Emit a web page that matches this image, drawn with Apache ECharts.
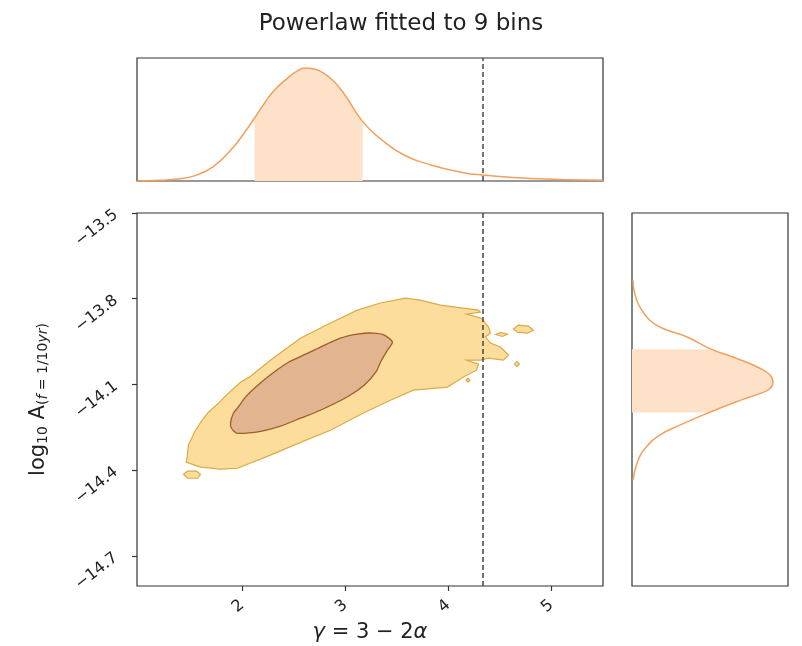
<!DOCTYPE html>
<html>
<head>
<meta charset="utf-8">
<script src="https://cdn.jsdelivr.net/npm/echarts@6/dist/echarts.min.js"></script>
<style>
  html, body { margin: 0; padding: 0; background: #fff; }
  #chart { width: 802px; height: 646px; }
</style>
</head>
<body>
<div id="chart"></div>
<script>
// ---- data -------------------------------------------------------------
const title = 'Powerlaw fitted to 9 bins';
const gammaTicks = [2, 3, 4, 5];
const ampTicks = [-13.5, -13.8, -14.1, -14.4, -14.7];
const gammaRange = [0.98, 5.5];
const ampRange = [-14.805, -13.5];
const gammaTrue = 13 / 3;

// marginal posterior of gamma (peak normalised to 1)
const gammaGrid = [0.98, 1.2, 1.4, 1.55, 1.72, 1.89, 2.02, 2.12, 2.21, 2.31, 2.44, 2.52, 2.61, 2.70, 2.79, 2.89, 2.99, 3.17, 3.34, 3.57, 3.83, 4.15, 4.33, 4.8, 5.5];
const gammaPdf  = [0.0, 0.006, 0.02, 0.05, 0.127, 0.274, 0.425, 0.557, 0.68, 0.80, 0.91, 0.965, 1.0, 0.99, 0.955, 0.88, 0.77, 0.525, 0.375, 0.23, 0.142, 0.073, 0.053, 0.022, 0.006];
const gammaBand = [2.12, 3.17];

// marginal posterior of log10 A (peak normalised to 1)
const ampGrid = [-13.735, -13.781, -13.828, -13.875, -13.904, -13.933, -13.977, -14.009, -14.044, -14.067, -14.09, -14.114, -14.131, -14.16, -14.198, -14.242, -14.277, -14.318, -14.365, -14.435];
const ampPdf  = [0.007, 0.019, 0.055, 0.126, 0.221, 0.387, 0.565, 0.744, 0.91, 0.98, 1.0, 0.98, 0.91, 0.744, 0.548, 0.34, 0.197, 0.103, 0.043, 0.007];
const ampBand = [-14.198, -13.977];

// joint posterior credible regions, [gamma, log10 A] vertices
const contourOuter = [
  [1.460, -14.372], [1.479, -14.312], [1.537, -14.267], [1.605, -14.228], [1.673, -14.197],
  [1.770, -14.165], [1.867, -14.130], [1.984, -14.092], [2.081, -14.071], [2.274, -14.015],
  [2.565, -13.938], [2.856, -13.885], [3.118, -13.840], [3.341, -13.815], [3.584, -13.798],
  [3.729, -13.805], [3.923, -13.822], [4.146, -13.833], [4.292, -13.840], [4.311, -13.847],
  [4.176, -13.854], [4.321, -13.868], [4.389, -13.899], [4.408, -13.920], [4.360, -13.934],
  [4.408, -13.955], [4.505, -13.969], [4.583, -13.997], [4.534, -14.015], [4.389, -14.008],
  [4.311, -14.015], [4.176, -14.015], [4.292, -14.029], [4.273, -14.050], [4.146, -14.074],
  [3.991, -14.109], [3.661, -14.120], [3.438, -14.155], [3.176, -14.200], [2.856, -14.260],
  [2.595, -14.298], [2.274, -14.347], [1.954, -14.393], [1.790, -14.396], [1.596, -14.389]
];
const outerIslands = [
  [[1.431, -14.414], [1.470, -14.403], [1.557, -14.403], [1.596, -14.414], [1.567, -14.428], [1.470, -14.428]],
  [[4.631, -13.906], [4.680, -13.892], [4.777, -13.896], [4.825, -13.910], [4.767, -13.920], [4.670, -13.917]],
  [[4.457, -13.925], [4.505, -13.918], [4.573, -13.924], [4.525, -13.932]],
  [[4.641, -14.029], [4.665, -14.020], [4.690, -14.029], [4.665, -14.037]],
  [[4.171, -14.085], [4.190, -14.078], [4.210, -14.085], [4.190, -14.092]]
];
const contourInner = [
  [1.887, -14.235], [1.916, -14.200], [1.954, -14.183], [2.032, -14.144], [2.177, -14.095],
  [2.323, -14.053], [2.449, -14.022], [2.614, -13.994], [2.759, -13.969], [2.953, -13.938],
  [3.118, -13.924], [3.264, -13.920], [3.380, -13.927], [3.458, -13.952], [3.409, -13.980],
  [3.351, -14.015], [3.303, -14.053], [3.186, -14.102], [3.031, -14.141], [2.759, -14.190],
  [2.565, -14.218], [2.371, -14.246], [2.139, -14.267], [1.945, -14.270], [1.896, -14.253]
];

// ---- styling ----------------------------------------------------------
const FONT = 'DejaVu Sans';
const TEXT = '#222';
const FRAME = '#333';
const LINE = '#f2a05c';
const BAND = '#fde2c9';
const OUTER_FILL = '#fddd9b', OUTER_EDGE = '#dcaa45';
const INNER_FILL = '#e2b48f', INNER_EDGE = '#9e5e2a';

const chart = echarts.init(document.getElementById('chart'), null, { renderer: 'canvas' });

function regionSeries(rings, fill, stroke, width, smooth, extra) {
  return Object.assign({
    type: 'custom',
    xAxisIndex: 1, yAxisIndex: 1,
    silent: true, animation: false,
    data: rings.map((r, i) => [r[0][0], r[0][1], i]),
    encode: { x: 0, y: 1 },
    renderItem: (params, api) => {
      const ring = rings[api.value(2)];
      return {
        type: 'polygon',
        shape: { points: ring.map(p => api.coord(p)), smooth: smooth },
        style: { fill: fill, stroke: stroke, lineWidth: width }
      };
    }
  }, extra || {});
}

const truthLine = {
  silent: true, symbol: 'none', animation: false,
  label: { show: false },
  lineStyle: { color: '#444', type: [5, 3], width: 1.5 },
  data: [{ xAxis: gammaTrue }]
};

const hidden = {
  axisLine: { show: false }, axisTick: { show: false },
  axisLabel: { show: false }, splitLine: { show: false }
};

const gridBase = { show: true, borderColor: FRAME, borderWidth: 1.2, containLabel: false, outerBoundsMode: 'none' };

const option = {
  backgroundColor: '#fff',
  animation: false,
  title: {
    text: title, left: 'center', top: 8,
    textStyle: { fontFamily: FONT, fontSize: 23, fontWeight: 'normal', color: TEXT }
  },
  grid: [
    Object.assign({ left: 137, top: 58, width: 466, height: 123 }, gridBase),
    Object.assign({ left: 137, top: 213, width: 466, height: 373 }, gridBase),
    Object.assign({ left: 632, top: 213, width: 156, height: 373 }, gridBase)
  ],
  xAxis: [
    Object.assign({ gridIndex: 0, type: 'value', min: gammaRange[0], max: gammaRange[1] }, hidden),
    {
      gridIndex: 1, type: 'value', min: gammaRange[0], max: gammaRange[1],
      axisLine: { show: false },
      axisTick: { show: true, length: 5, customValues: gammaTicks, lineStyle: { color: FRAME, width: 1.2 } },
      axisLabel: { show: true, rotate: 40, margin: 17, customValues: gammaTicks, fontFamily: FONT, fontSize: 16, color: TEXT },
      splitLine: { show: false },
      name: '{i|γ} = 3 − 2{i|α}',
      nameLocation: 'middle', nameGap: 36, nameMoveOverlap: false,
      nameTextStyle: {
        fontFamily: FONT, fontSize: 21, color: TEXT,
        rich: { i: { fontFamily: FONT, fontSize: 21, fontStyle: 'italic', color: TEXT } }
      }
    },
    Object.assign({ gridIndex: 2, type: 'value', min: 0, max: 1.107 }, hidden)
  ],
  yAxis: [
    Object.assign({ gridIndex: 0, type: 'value', min: 0, max: 1.088 }, hidden),
    {
      gridIndex: 1, type: 'value', min: ampRange[0], max: ampRange[1],
      axisLine: { show: false },
      axisTick: { show: true, length: 5, customValues: ampTicks, lineStyle: { color: FRAME, width: 1.2 } },
      axisLabel: { show: true, rotate: 38, margin: 21, customValues: ampTicks,
        formatter: v => (v < 0 ? '−' : '') + Math.abs(v).toFixed(1),
        fontFamily: FONT, fontSize: 16, color: TEXT },
      splitLine: { show: false },
      name: 'log{s|10} A{s|(}{si|f}{s| = 1/10}{si|yr}{s|)}',
      nameLocation: 'middle', nameRotate: 90, nameGap: 87, nameMoveOverlap: false,
      nameTextStyle: {
        fontFamily: FONT, fontSize: 21, color: TEXT,
        rich: {
          s: { fontFamily: FONT, fontSize: 14, color: TEXT, padding: [9, 0, 0, 0] },
          si: { fontFamily: FONT, fontSize: 14, fontStyle: 'italic', color: TEXT, padding: [9, 0, 0, 0] }
        }
      }
    },
    Object.assign({ gridIndex: 2, type: 'value', min: ampRange[0], max: ampRange[1] }, hidden)
  ],
  series: [
    // top marginal: credible band, then curve
    {
      type: 'line', xAxisIndex: 0, yAxisIndex: 0, smooth: 0.5, symbol: 'none', silent: true,
      lineStyle: { width: 0 }, areaStyle: { color: BAND, opacity: 1 },
      data: gammaGrid.map((g, i) => [g, gammaPdf[i]]).filter(p => p[0] >= gammaBand[0] && p[0] <= gammaBand[1])
    },
    {
      type: 'line', xAxisIndex: 0, yAxisIndex: 0, smooth: 0.5, symbol: 'none', silent: true,
      lineStyle: { color: LINE, width: 1.5 },
      data: gammaGrid.map((g, i) => [g, gammaPdf[i]]),
      markLine: truthLine
    },
    // main panel: joint credible regions
    regionSeries([contourOuter].concat(outerIslands), OUTER_FILL, OUTER_EDGE, 1.2, 0),
    regionSeries([contourInner], INNER_FILL, INNER_EDGE, 1.3, 0.2, { markLine: truthLine }),
    // right marginal: credible band polygon, then curve
    {
      type: 'custom', xAxisIndex: 2, yAxisIndex: 2, silent: true, animation: false,
      data: [[0, ampBand[0]]],
      encode: { x: 0, y: 1 },
      renderItem: (params, api) => {
        const inside = ampGrid.map((a, i) => [ampPdf[i], a]).filter(p => p[1] >= ampBand[0] && p[1] <= ampBand[1]);
        const pts = [[0, ampBand[1]]].concat(inside, [[0, ampBand[0]]]);
        return {
          type: 'polygon',
          shape: { points: pts.map(p => api.coord(p)) },
          style: { fill: BAND, stroke: null }
        };
      }
    },
    {
      type: 'line', xAxisIndex: 2, yAxisIndex: 2, smooth: 0.5, symbol: 'none', silent: true,
      lineStyle: { color: LINE, width: 1.5 },
      data: ampGrid.map((a, i) => [ampPdf[i], a])
    }
  ]
};

chart.setOption(option);
</script>
</body>
</html>
